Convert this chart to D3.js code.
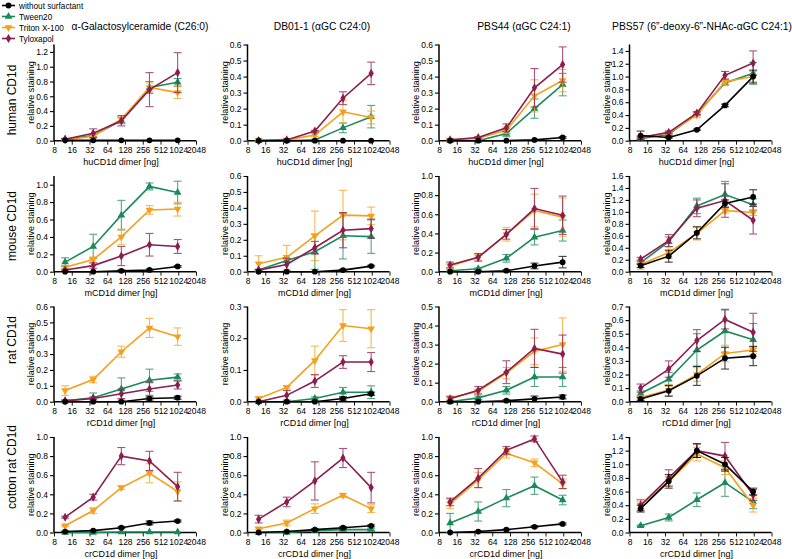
<!DOCTYPE html>
<html><head><meta charset="utf-8">
<script src="https://cdn.jsdelivr.net/npm/d3@7"></script>
<style>body{margin:0;background:#fff}svg{display:block;font-family:"Liberation Sans",Arial,Helvetica,sans-serif}</style>
</head><body><svg id="c" width="792" height="559"></svg>
<script>
// ---------- data ----------
const doses = [12.35, 37, 111, 333, 1000];
const xTicks = [8, 16, 32, 64, 128, 256, 512, 1024, 2048];
const seriesNames = ["without surfactant", "Tween20", "Triton X-100", "Tyloxapol"];
const seriesColors = ["#000000", "#1b8a5a", "#f5a01a", "#8b1d4f"];
const colTitles = ["\u03b1-Galactosylceramide (C26:0)", "DB01-1 (\u03b1GC C24:0)", "PBS44 (\u03b1GC C24:1)", "PBS57 (6\u201d-deoxy-6\u201d-NHAc-\u03b1GC C24:1)"];
const rowTitles = ["human CD1d", "mouse CD1d", "rat CD1d", "cotton rat CD1d"];
const xTitles = ["huCD1d dimer [ng]", "mCD1d dimer [ng]", "rCD1d dimer [ng]", "crCD1d dimer [ng]"];
const yMax = [[1.3, 0.6, 0.6, 1.5], [1.1, 0.6, 1.0, 1.6], [0.6, 0.3, 0.5, 0.7], [1.0, 1.0, 1.0, 1.4]];
const yTop = [[1.2, 0.6, 0.6, 1.4], [1.0, 0.6, 1.0, 1.6], [0.6, 0.3, 0.5, 0.7], [1.0, 1.0, 1.0, 1.4]];
const yStep = [[0.2, 0.1, 0.1, 0.2], [0.2, 0.1, 0.2, 0.2], [0.1, 0.1, 0.1, 0.1], [0.2, 0.2, 0.2, 0.2]];

// order of series: without surfactant, Tween20, Triton X-100, Tyloxapol
const human_aGalCer = [[0.005,0.005,0.005,0.005,0.005],[0.02,0.07,0.27,0.72,0.79],[0.01,0.06,0.29,0.72,0.65],[0.02,0.10,0.27,0.69,0.92]];
const human_aGalCer_err = [[0,0,0,0,0],[0.01,0.02,0.04,0.08,0.05],[0.01,0.02,0.04,0.06,0.08],[0.01,0.06,0.07,0.23,0.27]];
const human_DB01 = [[0,0,0,0,0],[0,0,0.005,0.08,0.15],[0.005,0.005,0.035,0.18,0.145],[0,0.005,0.06,0.265,0.42]];
const human_DB01_err = [[0,0,0,0,0],[0,0,0.005,0.03,0.07],[0.005,0.005,0.01,0.07,0.04],[0,0.005,0.005,0.04,0.07]];
const human_PBS44 = [[0,0,0,0.005,0.02],[0,0,0.045,0.20,0.35],[0.005,0.015,0.065,0.28,0.375],[0.005,0.02,0.08,0.33,0.475]];
const human_PBS44_err = [[0,0,0,0,0.005],[0,0,0.02,0.06,0.07],[0.005,0.005,0.02,0.1,0.07],[0.005,0.005,0.025,0.12,0.11]];
const human_PBS57 = [[0.08,0.05,0.17,0.55,1.0],[0.03,0.10,0.42,0.90,1.05],[0.05,0.12,0.40,0.92,1.0],[0.05,0.13,0.43,1.02,1.21]];
const human_PBS57_err = [[0.07,0.01,0.01,0.02,0.1],[0.02,0.02,0.03,0.03,0.17],[0.02,0.02,0.04,0.04,0.08],[0.02,0.02,0.02,0.06,0.19]];

const mouse_aGalCer = [[0,0,0.01,0.02,0.06],[0.11,0.29,0.65,0.98,0.91],[0.05,0.14,0.40,0.71,0.72],[0.02,0.07,0.18,0.31,0.29]];
const mouse_aGalCer_err = [[0,0,0.01,0.01,0.01],[0.05,0.14,0.17,0.04,0.13],[0.02,0.03,0.09,0.05,0.08],[0.01,0.03,0.11,0.13,0.08]];
const mouse_DB01 = [[0,0,0,0.01,0.035],[0.01,0.07,0.125,0.225,0.22],[0.05,0.09,0.225,0.355,0.35],[0.01,0.045,0.15,0.26,0.27]];
const mouse_DB01_err = [[0,0,0,0.005,0.005],[0.005,0.01,0.11,0.145,0.105],[0.05,0.075,0.155,0.155,0.055],[0.005,0.04,0.04,0.11,0.06]];
const mouse_PBS44 = [[0,0,0.01,0.06,0.10],[0.01,0.03,0.14,0.36,0.43],[0.06,0.15,0.39,0.64,0.57],[0.07,0.15,0.39,0.66,0.59]];
const mouse_PBS44_err = [[0,0,0.01,0.03,0.06],[0.01,0.01,0.04,0.08,0.11],[0.02,0.03,0.07,0.17,0.2],[0.03,0.04,0.05,0.21,0.2]];
const mouse_PBS57 = [[0.10,0.26,0.65,1.14,1.25],[0.15,0.50,1.10,1.29,1.12],[0.12,0.32,0.64,1.02,0.99],[0.21,0.52,1.06,1.19,0.86]];
const mouse_PBS57_err = [[0.03,0.1,0.1,0.06,0.12],[0.03,0.08,0.13,0.22,0.1],[0.08,0.1,0.11,0.04,0.05],[0.03,0.1,0.14,0.28,0.23]];

const rat_aGalCer = [[0,0,0,0.02,0.025],[0.005,0.025,0.08,0.135,0.155],[0.07,0.14,0.315,0.465,0.41],[0.005,0.02,0.05,0.08,0.105]];
const rat_aGalCer_err = [[0,0,0,0.01,0.01],[0.005,0.03,0.07,0.07,0.02],[0.03,0.02,0.035,0.06,0.055],[0.005,0.01,0.03,0.04,0.025]];
const rat_DB01 = [[0,0,0,0.01,0.025],[0,0,0.01,0.03,0.03],[0.01,0.045,0.13,0.24,0.23],[0,0.02,0.065,0.125,0.125]];
const rat_DB01_err = [[0,0,0,0.005,0.005],[0,0,0.005,0.015,0.02],[0.005,0.005,0.045,0.05,0.06],[0,0.015,0.02,0.02,0.03]];
const rat_PBS44 = [[0,0,0.005,0.015,0.025],[0,0.02,0.06,0.13,0.13],[0.02,0.055,0.15,0.265,0.30],[0.015,0.06,0.155,0.28,0.25]];
const rat_PBS44_err = [[0,0,0.005,0.015,0.01],[0,0.01,0.02,0.05,0.05],[0.01,0.01,0.03,0.07,0.14],[0.01,0.02,0.06,0.1,0.1]];
const rat_PBS57 = [[0.02,0.08,0.19,0.32,0.335],[0.06,0.165,0.38,0.52,0.455],[0.03,0.085,0.20,0.355,0.38],[0.10,0.24,0.45,0.605,0.51]];
const rat_PBS57_err = [[0.01,0.04,0.07,0.08,0.07],[0.02,0.05,0.12,0.16,0.12],[0.01,0.04,0.05,0.06,0.03],[0.03,0.06,0.08,0.07,0.14]];

const cotton_aGalCer = [[0.01,0.02,0.05,0.10,0.12],[0,0,0.005,0.005,0.005],[0.07,0.23,0.47,0.62,0.43],[0.16,0.37,0.80,0.75,0.48]];
const cotton_aGalCer_err = [[0.005,0.005,0.01,0.02,0.01],[0,0,0,0,0],[0.01,0.03,0.02,0.1,0.1],[0.01,0.03,0.09,0.1,0.15]];
const cotton_DB01 = [[0,0.01,0.03,0.05,0.07],[0,0,0.02,0.03,0.03],[0.04,0.10,0.25,0.39,0.25],[0.14,0.32,0.54,0.78,0.47]];
const cotton_DB01_err = [[0,0.005,0.01,0.01,0.01],[0,0,0.005,0.01,0.01],[0.01,0.03,0.05,0.02,0.04],[0.04,0.05,0.2,0.1,0.16]];
const cotton_PBS44 = [[0,0.01,0.03,0.06,0.09],[0.10,0.22,0.36,0.49,0.34],[0.30,0.55,0.83,0.73,0.51],[0.32,0.57,0.86,0.98,0.53]];
const cotton_PBS44_err = [[0,0.005,0.005,0.01,0.01],[0.1,0.1,0.09,0.09,0.05],[0.05,0.08,0.05,0.04,0.05],[0.04,0.1,0.04,0.03,0.07]];
const cotton_PBS57 = [[0.35,0.75,1.20,1.00,0.60],[0.10,0.22,0.48,0.73,0.45],[0.40,0.75,1.15,0.95,0.40],[0.40,0.80,1.20,1.12,0.55]];
const cotton_PBS57_err = [[0.05,0.1,0.1,0.1,0.05],[0.01,0.05,0.1,0.2,0.1],[0.05,0.07,0.1,0.1,0.1],[0.08,0.12,0.1,0.2,0.08]];

const grid = [
  [[human_aGalCer, human_aGalCer_err], [human_DB01, human_DB01_err], [human_PBS44, human_PBS44_err], [human_PBS57, human_PBS57_err]],
  [[mouse_aGalCer, mouse_aGalCer_err], [mouse_DB01, mouse_DB01_err], [mouse_PBS44, mouse_PBS44_err], [mouse_PBS57, mouse_PBS57_err]],
  [[rat_aGalCer, rat_aGalCer_err], [rat_DB01, rat_DB01_err], [rat_PBS44, rat_PBS44_err], [rat_PBS57, rat_PBS57_err]],
  [[cotton_aGalCer, cotton_aGalCer_err], [cotton_DB01, cotton_DB01_err], [cotton_PBS44, cotton_PBS44_err], [cotton_PBS57, cotton_PBS57_err]]
];

// ---------- layout ----------
const colX = [54, 247.5, 439, 629.5];
const plotW = 142;
const rowTop = [44.5, 176, 306.5, 437];
const rowBottom = [140.7, 271.7, 401.7, 532.5];
const titleX = [140, 322, 524, 702];
const rowLabelY = [100, 226, 340, 467];
const drawOrder = [1, 2, 3, 0];

const svg = d3.select("#c");
const symbols = [d3.symbolCircle, d3.symbolTriangle, d3.symbolTriangle, d3.symbolDiamond];
const symSize = [26, 26, 26, 24];
const symRot = [0, 0, 180, 0];

// legend
seriesNames.forEach((n, i) => {
  const y = 5.5 + i * 11;
  const g = svg.append("g");
  g.append("line").attr("x1", 2).attr("x2", 15).attr("y1", y).attr("y2", y)
    .attr("stroke", seriesColors[i]).attr("stroke-width", 1.6);
  g.append("path").attr("d", d3.symbol(symbols[i], symSize[i])())
    .attr("transform", `translate(8.5,${y}) rotate(${symRot[i]})`).attr("fill", seriesColors[i]);
  g.append("text").attr("x", 19).attr("y", y + 3).attr("font-size", 8.2).text(n);
});

// column titles
colTitles.forEach((t, c) => {
  svg.append("text").attr("x", titleX[c]).attr("y", 30).attr("text-anchor", "middle")
    .attr("font-size", 10.3).text(t);
});
// row titles
rowTitles.forEach((t, r) => {
  svg.append("text").attr("transform", `translate(16,${rowLabelY[r]}) rotate(-90)`)
    .attr("text-anchor", "middle").attr("font-size", 12).text(t);
});

const fmt = d3.format(".1f");

for (let r = 0; r < 4; r++) {
  for (let c = 0; c < 4; c++) {
    const [means, errs] = grid[r][c];
    const x = d3.scaleLog().base(2).domain([8, 2048]).range([colX[c], colX[c] + plotW]);
    const y = d3.scaleLinear().domain([0, yMax[r][c]]).range([rowBottom[r], rowTop[r]]);
    const g = svg.append("g");

    // x axis
    const minor = [];
    for (let k = 3; k < 11; k++) {
      const b = Math.pow(2, k);
      for (let j = 1; j < 8; j++) minor.push(b + j * b / 8);
    }
    const xa = g.append("g").attr("transform", `translate(0,${rowBottom[r]})`);
    xa.call(d3.axisBottom(x).tickValues(minor).tickSize(2.5).tickFormat(""));
    xa.call(d3.axisBottom(x).tickValues(xTicks).tickSize(4).tickFormat(d3.format("d")).tickPadding(2));
    xa.selectAll(".domain").attr("stroke-width", 1.5);
    xa.selectAll("line").attr("stroke-width", 0.9);
    xa.selectAll("text").attr("font-size", 8.5).attr("font-family", "Liberation Sans, Arial, sans-serif").attr("fill", "#000");
    xa.selectAll(".domain").attr("d", `M${x(8)},0H${x(2048)}`);

    // y axis
    const ticks = d3.range(0, yTop[r][c] + 1e-9, yStep[r][c]);
    const ya = g.append("g").attr("transform", `translate(${colX[c]},0)`);
    ya.call(d3.axisLeft(y).tickValues(ticks).tickSize(4).tickFormat(fmt).tickPadding(2));
    ya.selectAll(".domain").attr("stroke-width", 1.5).attr("d", `M0,${y(0)}V${y(yMax[r][c])}`);
    ya.selectAll("line").attr("stroke-width", 1.1);
    ya.selectAll("text").attr("font-size", 8.5).attr("font-family", "Liberation Sans, Arial, sans-serif").attr("fill", "#000");

    // titles
    g.append("text").attr("x", colX[c] + plotW / 2 - 4).attr("y", rowBottom[r] + 24)
      .attr("text-anchor", "middle").attr("font-size", 9).text(xTitles[r]);
    g.append("text").attr("transform", `translate(${colX[c] - 20},${(rowTop[r] + rowBottom[r]) / 2}) rotate(-90)`)
      .attr("text-anchor", "middle").attr("font-size", 9).text("relative staining");

    // series
    drawOrder.forEach(s => {
      const col = seriesColors[s];
      const pts = doses.map((d, i) => ({ d, m: means[s][i], e: errs[s][i] }));
      const eb = g.append("g").attr("stroke", col).attr("stroke-width", 1.1).attr("opacity", 0.75);
      pts.forEach(p => {
        if (p.e <= 0) return;
        const lo = Math.max(0, p.m - p.e), hi = p.m + p.e;
        const px = x(p.d);
        eb.append("line").attr("x1", px).attr("x2", px).attr("y1", y(lo)).attr("y2", y(hi));
        eb.append("line").attr("x1", px - 4).attr("x2", px + 4).attr("y1", y(hi)).attr("y2", y(hi));
        eb.append("line").attr("x1", px - 4).attr("x2", px + 4).attr("y1", y(lo)).attr("y2", y(lo));
      });
      g.append("path").datum(pts)
        .attr("d", d3.line().x(p => x(p.d)).y(p => y(p.m)))
        .attr("fill", "none").attr("stroke", col).attr("stroke-width", 1.6);
      g.selectAll(null).data(pts).enter().append("path")
        .attr("d", d3.symbol(symbols[s], symSize[s])())
        .attr("transform", p => `translate(${x(p.d)},${y(p.m)}) rotate(${symRot[s]})`)
        .attr("fill", col);
    });
  }
}
</script></body></html>
